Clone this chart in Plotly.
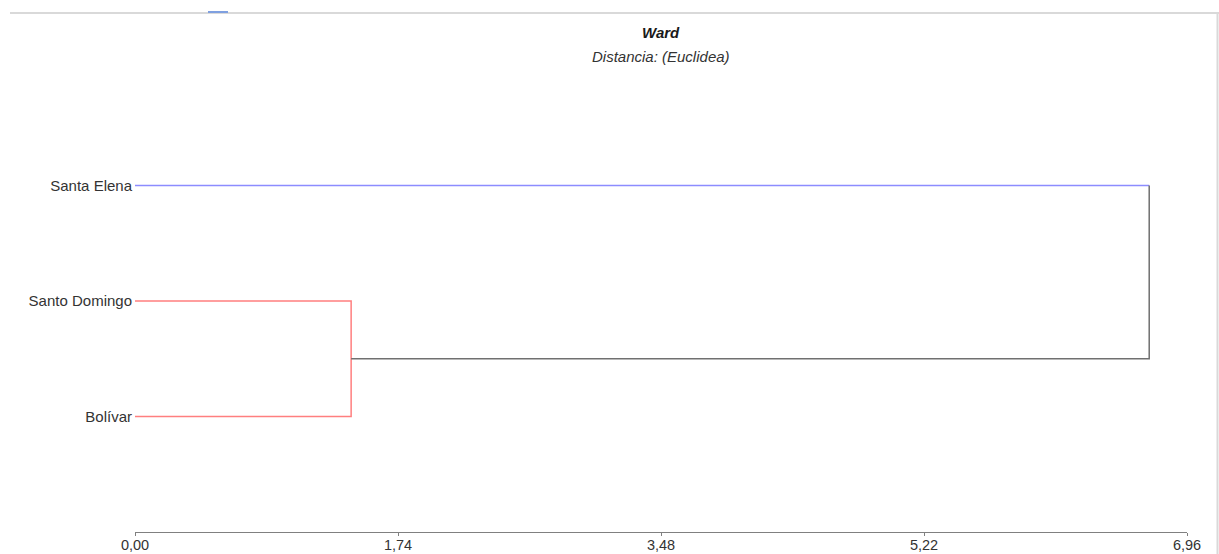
import plotly.graph_objects as go

# Leaves of the dendrogram, top to bottom
leaves = ["Santa Elena", "Santo Domingo", "Bolívar"]
leaf_pos = [3, 2, 1]

# Ward merge heights (Euclidean distance)
merge_low = 1.43    # Santo Domingo + Bolívar
merge_top = 6.71    # (Santo Domingo, Bolívar) + Santa Elena

# Axis ticks
tick_vals = [0.0, 1.74, 3.48, 5.22, 6.96]
tick_text = ["0,00", "1,74", "3,48", "5,22", "6,96"]

BLUE = "#8c8cff"
RED = "#ff7f7f"
GRAY = "#707070"
FONT = "Liberation Sans, Arial, sans-serif"

fig = go.Figure()

def seg(xs, ys, color):
    fig.add_trace(go.Scatter(x=xs, y=ys, mode="lines",
                             line=dict(color=color, width=1.5),
                             hoverinfo="skip", showlegend=False))

y_se, y_sd, y_bo = leaf_pos
y_low = (y_sd + y_bo) / 2

# Santa Elena branch
seg([0, merge_top], [y_se, y_se], BLUE)
# Santo Domingo / Bolívar cluster
seg([0, merge_low, merge_low, 0], [y_sd, y_sd, y_bo, y_bo], RED)
# Final join
seg([merge_low, merge_top, merge_top], [y_low, y_low, y_se], GRAY)

fig.update_layout(
    width=1219, height=554,
    margin=dict(l=135, r=32, t=70, b=22),
    paper_bgcolor="white", plot_bgcolor="white",
    font=dict(family=FONT, color="#333333", size=14),
    xaxis=dict(range=[0, 6.96], tickvals=tick_vals, ticktext=tick_text,
               showgrid=False, zeroline=False, showline=True,
               linecolor="#808080", linewidth=1, ticks="outside",
               ticklen=3, tickcolor="#808080", tickfont=dict(size=14.5),
               ticklabelstandoff=-3, automargin=False, fixedrange=True),
    yaxis=dict(range=[0, 4], tickvals=leaf_pos, ticktext=leaves,
               showgrid=False, zeroline=False, showline=False,
               ticks="", tickfont=dict(size=15), ticklabelstandoff=2,
               automargin=False, fixedrange=True),
    annotations=[
        dict(text="<b><i>Ward</i></b>", x=0.5, y=(532 - 32) / 462,
             xref="paper", yref="paper", showarrow=False,
             font=dict(size=15, color="#1a1a1a"), yanchor="middle"),
        dict(text="<i>Distancia: (Euclidea)</i>", x=0.5, y=(532 - 57) / 462,
             xref="paper", yref="paper", showarrow=False,
             font=dict(size=15, color="#333333"), yanchor="middle"),
    ],
    shapes=[
        # panel frame (top and right edges)
        dict(type="line", xref="paper", yref="paper",
             x0=(10 - 135) / 1052, x1=(1219 - 135) / 1052,
             y0=(532 - 13) / 462, y1=(532 - 13) / 462,
             line=dict(color="#d9d9d9", width=2)),
        dict(type="line", xref="paper", yref="paper",
             x0=(1217.5 - 135) / 1052, x1=(1217.5 - 135) / 1052,
             y0=(532 - 13) / 462, y1=-22 / 462,
             line=dict(color="#d9d9d9", width=2)),
        dict(type="line", xref="paper", yref="paper",
             x0=(208 - 135) / 1052, x1=(228 - 135) / 1052,
             y0=(532 - 12) / 462, y1=(532 - 12) / 462,
             line=dict(color="#7fa0e0", width=2)),
    ],
)

fig.write_html("out.html")
